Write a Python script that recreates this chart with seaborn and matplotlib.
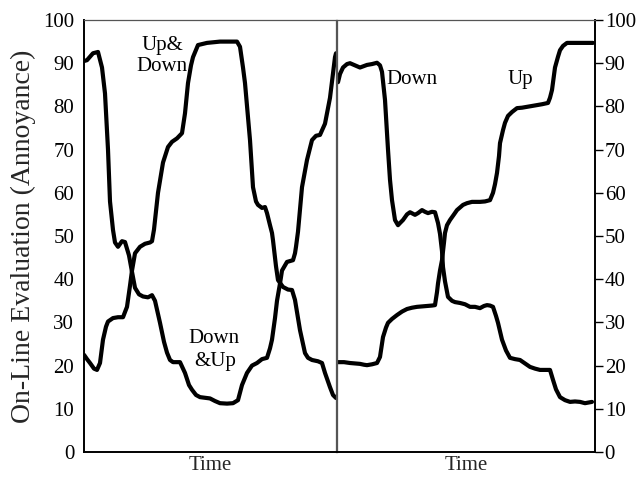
import numpy as np
import pandas as pd
import matplotlib
matplotlib.use("Agg")
import matplotlib.pyplot as plt
import seaborn as sns

# ---------------- data ----------------
# Left panel: two continuous-evaluation traces
left_down_up_t = [0, 3, 9, 14, 18, 21, 24, 26, 29, 31, 34, 38, 41, 45, 48, 51, 55, 59, 64, 68,
                  71, 76, 80, 83, 86, 89, 96, 101, 105, 108, 112, 116, 126, 131, 136, 143, 149,
                  154, 158, 163, 168, 173, 178, 183, 186, 188, 191, 193, 196, 198, 203, 209,
                  211, 212, 214, 218, 223, 228, 232, 236, 241, 246, 251, 252]
left_down_up_v = [90.5, 90.7, 92.3, 92.6, 89, 83, 70, 58, 51.4, 48.5, 47.5, 48.8, 48.6, 45.5,
                  41.7, 38, 36.5, 36, 35.8, 36.3, 35, 29.9, 25.5, 23, 21.3, 20.8, 20.8, 18.3,
                  15.5, 14.4, 13.2, 12.7, 12.4, 11.8, 11.3, 11.2, 11.3, 12, 15.5, 18.3, 20,
                  20.6, 21.5, 21.8, 24, 26, 31, 35, 39, 42, 44, 44.4, 46, 47.5, 51, 61.3,
                  67.6, 72.2, 73.2, 73.4, 76, 82, 91.4, 92.3]

left_up_down_t = [0, 3, 6, 10, 13, 16, 19, 22, 24, 29, 34, 39, 43, 46, 48, 51, 56, 61, 66, 68,
                  70, 74, 79, 84, 88, 93, 98, 101, 104, 107, 109, 114, 123, 136, 153, 156, 159,
                  161, 166, 169, 172, 174, 178, 181, 183, 186, 188, 189, 192, 194, 199, 204,
                  208, 211, 214, 216, 221, 224, 228, 234, 238, 241, 246, 249, 252]
left_up_down_v = [22.5, 21.5, 20.6, 19.3, 19, 20.6, 26, 29, 30.2, 31, 31.2, 31.2, 33.6, 38.5,
                  42, 46, 47.5, 48.2, 48.5, 48.8, 51.5, 60, 67, 70.6, 71.8, 72.6, 73.8, 78.4,
                  85.4, 89.5, 91.4, 94.2, 94.7, 95, 95, 93.8, 89, 85.4, 72.2, 61.3, 58, 57.2,
                  56.5, 56.7, 55.3, 52.5, 50.7, 49, 43, 39.8, 38.2, 37.6, 37.5, 35.2, 31,
                  28.2, 22.9, 21.8, 21.3, 21, 20.6, 18.3, 15, 13.2, 12.5]

# Right panel: "Down" and "Up" traces
right_down_t = [1, 3, 6, 10, 13, 18, 23, 30, 35, 40, 43, 45, 48, 51, 53, 55, 58, 61, 63, 66,
                70, 73, 78, 81, 85, 88, 91, 95, 98, 101, 103, 105, 106, 108, 111, 115, 118,
                123, 128, 133, 138, 143, 147, 150, 153, 156, 159, 161, 165, 169, 173, 178,
                183, 188, 193, 198, 203, 208, 213, 216, 219, 223, 228, 233, 238, 243, 248, 255]
right_down_v = [85.6, 87.5, 89, 89.8, 90, 89.5, 89, 89.6, 89.8, 90.1, 89.5, 88, 81.5, 70, 63,
                58.3, 53.7, 52.5, 53, 53.7, 55, 55.5, 54.9, 55.3, 56, 55.6, 55.3, 55.6, 55.5,
                53, 50.5, 46.5, 42.8, 39.5, 35.9, 35, 34.7, 34.5, 34.2, 33.6, 33.6, 33.3,
                33.8, 34, 33.9, 33.6, 31.5, 29.9, 26, 23.5, 21.8, 21.5, 21.3, 20.5, 19.7,
                19.3, 19, 19, 19, 16.7, 14.5, 12.7, 12, 11.6, 11.7, 11.6, 11.3, 11.6]

right_up_t = [1, 7, 13, 18, 23, 27, 30, 35, 40, 43, 46, 49, 51, 55, 60, 65, 70, 75, 80, 85,
              90, 95, 98, 100, 101, 103, 105, 107, 108, 110, 113, 117, 120, 123, 126, 130,
              135, 143, 148, 153, 156, 158, 160, 162, 163, 166, 168, 171, 175, 180, 185,
              190, 195, 200, 205, 211, 213, 215, 218, 221, 223, 226, 230, 236, 243, 250, 256]
right_up_v = [20.8, 20.8, 20.6, 20.5, 20.4, 20.2, 20.1, 20.3, 20.6, 22, 26.6, 28.8, 29.9,
              30.8, 31.7, 32.5, 33.1, 33.4, 33.6, 33.7, 33.8, 33.9, 34, 37, 39, 42, 44.4,
              48.5, 50.7, 52.5, 53.7, 55, 56, 56.6, 57.2, 57.6, 57.9, 57.9, 58, 58.3, 60,
              62, 64.6, 68.5, 71.5, 74.5, 76.2, 77.8, 78.7, 79.6, 79.7, 79.9, 80.1, 80.3,
              80.5, 80.8, 82, 83.8, 89, 91.5, 93, 94, 94.7, 94.7, 94.7, 94.7, 94.7]

y_ticks = [0, 10, 20, 30, 40, 50, 60, 70, 80, 90, 100]
y_label = "On-Line Evaluation (Annoyance)"
x_label = "Time"

# ---------------- style ----------------
sns.set_style("white")
plt.rcParams["font.family"] = ["Liberation Serif", "DejaVu Serif"]

fig = plt.figure(figsize=(6.36, 4.78), dpi=100)
fig.patch.set_facecolor("white")
ax1 = fig.add_axes([84 / 636, 26 / 478, 252 / 636, 432 / 478])
ax2 = fig.add_axes([337 / 636, 26 / 478, 258 / 636, 432 / 478])

line_kw = dict(color="black", linewidth=3.0, estimator=None, sort=False, legend=False)

df_a = pd.DataFrame({"t": left_down_up_t, "v": left_down_up_v})
df_b = pd.DataFrame({"t": left_up_down_t, "v": left_up_down_v})
df_c = pd.DataFrame({"t": right_down_t, "v": right_down_v})
df_d = pd.DataFrame({"t": right_up_t, "v": right_up_v})

sns.lineplot(data=df_a, x="t", y="v", ax=ax1, **line_kw)
sns.lineplot(data=df_b, x="t", y="v", ax=ax1, **line_kw)
sns.lineplot(data=df_c, x="t", y="v", ax=ax2, **line_kw)
sns.lineplot(data=df_d, x="t", y="v", ax=ax2, **line_kw)

for ax, xmax in ((ax1, 252), (ax2, 258)):
    ax.set_xlim(0, xmax)
    ax.set_ylim(0, 100)
    ax.set_yticks(y_ticks)
    ax.set_xticks([])
    ax.set_facecolor("white")
    ax.set_xlabel(x_label, fontsize=15, labelpad=3)
    for s in ax.spines.values():
        s.set_visible(True)
        s.set_color("black")
        s.set_linewidth(0.9)
    ax.spines["bottom"].set_linewidth(1.4)
    ax.spines["top"].set_color("#555555")
    ax.tick_params(axis="y", direction="out", length=6, width=1.0,
                   labelsize=15, pad=1, colors="black")

ax1.spines["left"].set_linewidth(1.4)
ax2.spines["right"].set_linewidth(1.4)
ax1.spines["right"].set_color("#555555")
ax2.spines["left"].set_color("#555555")

ax1.set_ylabel(y_label, fontsize=20)
ax1.yaxis.set_label_coords(-0.19, 0.5)
ax2.set_ylabel("")
ax2.yaxis.tick_right()
ax2.yaxis.set_label_position("right")

# curve labels
lab_kw = dict(fontsize=15, ha="center", va="baseline", color="black")
ax1.text(78, 93.0, "Up&", **lab_kw)
ax1.text(78, 88.2, "Down", **lab_kw)
ax1.text(130, 25.2, "Down", **lab_kw)
ax1.text(131, 20.0, "&Up", **lab_kw)
ax2.text(75, 85.3, "Down", **lab_kw)
ax2.text(183, 85.3, "Up", **lab_kw)

fig.savefig("out.png", dpi=100, facecolor="white")
